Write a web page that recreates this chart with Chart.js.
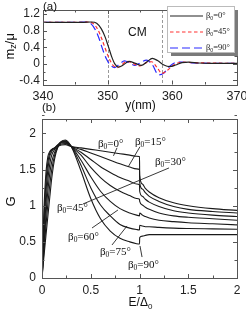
<!DOCTYPE html>
<html><head><meta charset="utf-8">
<script src="https://cdn.jsdelivr.net/npm/chart.js@4"></script>
<style>
html,body{margin:0;padding:0;background:#fff;}
#wrap{position:relative;width:246px;height:312px;overflow:hidden;background:#fff;}
canvas{position:absolute;left:0;}
#c1{top:0;}
#c2{top:100px;}
</style></head><body>
<div id="wrap"><canvas id="c1" width="246" height="112"></canvas><canvas id="c2" width="246" height="212"></canvas></div>
<script>
// ---------- Panel (a) data ----------
const A_X_TICKS = [340, 350, 360, 370];
const A_X_MINOR = [345, 355, 365];
const A_Y_TICKS = [-0.4, 0, 0.4, 0.8, 1.2];
const A_Y_MINOR = [-0.2, 0.2, 0.6, 1.0];
const CM_BOUNDS = [350, 358.4];

const A_Y0  = [340,346,347.5,348.3,349,349.6,350.1,350.6,351.1,351.7,352.4,353.3,354.3,355.2,356.1,356.9,357.7,358.7,359.6,360.5,361.5,362.5,364,366,370];
const A_M0  = [1.0,1.0,1.01,0.98,0.85,0.65,0.42,0.18,0.0,-0.08,-0.03,0.06,0.01,-0.04,0.05,0.13,0.08,-0.03,-0.07,-0.03,0.03,0.04,0.02,0.01,0.01];
const A_Y45 = [340,345.5,347,347.8,348.5,349.1,349.6,350.2,350.8,351.5,352.2,353.0,354.0,355.0,356.0,356.8,357.6,358.4,359.3,360.3,361.5,363,365,370];
const A_M45 = [1.0,1.0,1.01,0.97,0.82,0.6,0.38,0.14,-0.03,-0.09,-0.02,0.06,0.0,-0.05,0.03,0.05,-0.08,-0.23,-0.15,-0.02,0.04,0.03,0.02,0.01];
const A_Y90 = [340,345,346.5,347.4,348.1,348.7,349.2,349.8,350.4,351.1,351.8,352.6,353.5,354.2,355.1,356.0,356.9,357.9,358.7,359.6,360.5,361.5,363,370];
const A_M90 = [1.0,1.0,1.01,0.97,0.82,0.6,0.36,0.12,-0.03,-0.09,-0.01,0.07,0.01,-0.04,0.03,0.09,-0.02,-0.27,-0.22,-0.06,0.03,0.04,0.02,0.01];
const A_ANGLES = ['0', '45', '90'];

// ---------- Panel (b) data ----------
const B_X_TICKS = [0, 0.5, 1, 1.5, 2];
const B_X_MINOR = [0.25, 0.75, 1.25, 1.75];
const B_Y_TICKS = [0, 0.5, 1, 1.5, 2];
const B_Y_MINOR = [0.25, 0.75, 1.25, 1.75, 2.25];
const B_E = [0,0.01,0.02,0.04,0.06,0.08,0.1,0.13,0.16,0.2,0.24,0.3,0.4,0.5,0.6,0.7,0.8,0.9,0.97,1.0,1.002,1.03,1.06,1.1,1.2,1.35,1.5,1.75,2.0];
const G_0  = [0,0.55,0.95,1.45,1.68,1.75,1.78,1.80,1.82,1.84,1.845,1.82, 1.80,1.78,1.76,1.74,1.72,1.70,1.685,1.68, 1.42,1.30,1.24,1.19,1.11,1.04,1.00,0.96,0.935];
const G_15 = [0,0.45,0.80,1.32,1.60,1.73,1.77,1.80,1.83,1.855,1.86,1.82, 1.78,1.73,1.68,1.63,1.58,1.535,1.51,1.50, 1.32,1.23,1.18,1.13,1.06,0.99,0.95,0.92,0.90];
const G_30 = [0,0.36,0.67,1.18,1.50,1.68,1.75,1.80,1.84,1.87,1.87,1.82, 1.74,1.64,1.54,1.46,1.39,1.34,1.30,1.29, 1.20,1.13,1.09,1.05,0.99,0.93,0.90,0.87,0.85];
const G_45 = [0,0.29,0.55,1.02,1.36,1.58,1.70,1.78,1.84,1.88,1.88,1.82, 1.70,1.53,1.39,1.28,1.20,1.14,1.10,1.09, 1.06,1.01,0.98,0.95,0.90,0.86,0.84,0.82,0.80];
const G_60 = [0,0.23,0.45,0.86,1.20,1.45,1.61,1.74,1.82,1.885,1.89,1.82, 1.63,1.40,1.20,1.06,0.96,0.90,0.87,0.86, 0.90,0.87,0.85,0.83,0.80,0.78,0.765,0.75,0.735];
const G_75 = [0,0.18,0.37,0.72,1.02,1.29,1.50,1.70,1.81,1.89,1.90,1.82, 1.56,1.25,1.01,0.86,0.74,0.69,0.67,0.665, 0.73,0.72,0.71,0.71,0.70,0.69,0.685,0.68,0.675];
const G_90 = [0,0.15,0.30,0.58,0.85,1.12,1.38,1.65,1.80,1.89,1.91,1.82, 1.48,1.10,0.82,0.65,0.55,0.50,0.475,0.47, 0.56,0.58,0.59,0.60,0.60,0.60,0.60,0.60,0.60];

// label annotations (data units): angle, text left E, text G, pointer from (E,G) to (E,G)
const B_LABEL_ANGLE = ['0','15','30','45','60','75','90'];
const B_LABEL_E = [0.574, 0.954, 1.159, 0.154, 0.267, 0.595, 0.882];
const B_LABEL_G = [1.855, 1.887, 1.606, 0.969, 0.567, 0.364, 0.18];
const B_PTR = [
  [0.769,1.80, 0.733,1.69],
  [1.005,1.817, 0.885,1.54],
  [1.303,1.523, 0.42,1.024],
  null,
  [0.513,0.692, 0.779,0.941],
  [0.718,0.457, 0.872,0.72],
  [1.005,0.443, 1.026,0.29]
];

const SANS = '"Liberation Sans", Arial, sans-serif';
const SERIF = '"Liberation Serif", "Times New Roman", serif';

function drawBeta(ctx, x, y, ang, size){
  ctx.textAlign = 'left'; ctx.textBaseline = 'middle';
  ctx.font = size + 'px ' + SERIF;
  ctx.fillText('β', x, y);
  let w = ctx.measureText('β').width;
  ctx.font = (size*0.68) + 'px ' + SERIF;
  ctx.fillText('0', x + w, y + size*0.28);
  w += ctx.measureText('0').width;
  ctx.font = size + 'px ' + SERIF;
  ctx.fillText('=' + ang + '°', x + w, y);
}

function frameTicks(id, xMaj, xMin, yMaj, yMin){
  return {
    id: id,
    afterDatasetsDraw(chart){
      const {ctx, chartArea: a, scales: {x, y}} = chart;
      ctx.save();
      ctx.strokeStyle = '#555'; ctx.lineWidth = 1;
      ctx.strokeRect(Math.round(a.left)+0.5, Math.round(a.top)+0.5, Math.round(a.right-a.left), Math.round(a.bottom-a.top));
      ctx.beginPath();
      const tick = (vals, len) => {
        vals.forEach(v => {
          const px = Math.round(x.getPixelForValue(v)) + 0.5;
          ctx.moveTo(px, a.bottom); ctx.lineTo(px, a.bottom - len);
          ctx.moveTo(px, a.top); ctx.lineTo(px, a.top + len);
        });
      };
      const ticky = (vals, len) => {
        vals.forEach(v => {
          const py = Math.round(y.getPixelForValue(v)) + 0.5;
          ctx.moveTo(a.left, py); ctx.lineTo(a.left + len, py);
          ctx.moveTo(a.right, py); ctx.lineTo(a.right - len, py);
        });
      };
      tick(xMaj, 4); tick(xMin, 2.5); ticky(yMaj, 4); ticky(yMin, 2.5);
      ctx.stroke();
      ctx.restore();
    }
  };
}

function fixAxis(size, isX){
  return function(scale){
    if (isX) scale.height = size; else scale.width = size;
    scale.paddingLeft = 0; scale.paddingRight = 0; scale.paddingTop = 0; scale.paddingBottom = 0;
  };
}

// ---------- Chart (a) ----------
const aColors = ['#222222', '#ff3030', '#2a2aff'];
const aDash = [[], [3.5, 2.5], [8, 4]];
const aXs = [A_Y0, A_Y45, A_Y90];
const aYs = [A_M0, A_M45, A_M90];

const annotA = {
  id: 'annotA',
  beforeDatasetsDraw(chart){
    const {ctx, chartArea: a, scales: {x}} = chart;
    ctx.save();
    ctx.strokeStyle = '#999'; ctx.lineWidth = 1; ctx.setLineDash([3, 2]);
    CM_BOUNDS.forEach(v => {
      const px = Math.round(x.getPixelForValue(v)) + 0.5;
      ctx.beginPath(); ctx.moveTo(px, a.top); ctx.lineTo(px, a.bottom); ctx.stroke();
    });
    ctx.restore();
  },
  afterDraw(chart){
    const {ctx, chartArea: a, scales: {x, y}} = chart;
    ctx.save();
    ctx.fillStyle = '#111';
    ctx.font = '12px ' + SANS; ctx.textAlign = 'center'; ctx.textBaseline = 'middle';
    ctx.fillText('CM', x.getPixelForValue(354.6), y.getPixelForValue(0.74));
    // panel label
    ctx.font = '11.5px ' + SANS; ctx.textAlign = 'left';
    ctx.fillText('(a)', a.left, a.top - 3);
    // x title
    ctx.font = '12px ' + SANS; ctx.textAlign = 'center';
    ctx.fillText('y(nm)', (a.left + a.right)/2 + 0.5, a.bottom + 21);
    // y title m_z/μ rotated
    ctx.translate(10, (a.top + a.bottom)/2 - 1);
    ctx.rotate(-Math.PI/2);
    ctx.font = '13px ' + SANS;
    const w1 = ctx.measureText('m').width;
    ctx.font = '9px ' + SANS;
    const w2 = ctx.measureText('z').width;
    ctx.font = '13px ' + SANS;
    const w3 = ctx.measureText('/μ').width;
    let sx = -(w1 + w2 + w3)/2;
    ctx.textAlign = 'left';
    ctx.fillText('m', sx, 0);
    ctx.font = '9px ' + SANS; ctx.fillText('z', sx + w1, 3.5);
    ctx.font = '13px ' + SANS; ctx.fillText('/μ', sx + w1 + w2, 0);
    ctx.restore();

    // legend box
    ctx.save();
    const bx = a.right - 70, by = a.top - 4, bw = 67, bh = 46;
    ctx.fillStyle = '#7a7a7a';
    ctx.fillRect(bx + 4, by + 4, bw, bh);
    ctx.fillStyle = '#fff';
    ctx.fillRect(bx, by, bw, bh);
    ctx.strokeStyle = '#bbb'; ctx.lineWidth = 1;
    ctx.strokeRect(bx + 0.5, by + 0.5, bw, bh);
    chart.data.datasets.forEach((ds, i) => {
      const ry = by + 10 + i * 16;
      ctx.strokeStyle = ds.borderColor; ctx.lineWidth = 1.2; ctx.setLineDash(ds.borderDash || []);
      ctx.beginPath(); ctx.moveTo(bx + 3, ry); ctx.lineTo(bx + 36, ry); ctx.stroke();
      ctx.setLineDash([]);
      ctx.fillStyle = '#222';
      drawBeta(ctx, bx + 39, ry, A_ANGLES[i], 8.5);
    });
    ctx.restore();
  }
};

new Chart(document.getElementById('c1'), {
  type: 'line',
  data: {
    datasets: aXs.map((xs, i) => ({
      label: 'β0=' + A_ANGLES[i] + '°',
      data: xs.map((v, k) => ({x: v, y: aYs[i][k]})),
      borderColor: aColors[i], borderWidth: 1.2, borderDash: aDash[i],
      pointRadius: 0, fill: false, cubicInterpolationMode: 'monotone'
    }))
  },
  options: {
    responsive: false, animation: false, devicePixelRatio: 1,
    layout: {padding: {top: 10, right: 9, left: 0, bottom: 0}},
    plugins: {legend: {display: false}, tooltip: {enabled: false}},
    scales: {
      x: {type: 'linear', min: 340, max: 370,
        grid: {display: false, drawTicks: false}, border: {display: false},
        afterBuildTicks: s => { s.ticks = A_X_TICKS.map(v => ({value: v})); },
        afterFit: fixAxis(27.5, true),
        ticks: {padding: 5, color: '#222', font: {family: SANS, size: 12.5}, callback: v => String(v), maxRotation: 0, autoSkip: false}},
      y: {type: 'linear', min: -0.5, max: 1.3,
        grid: {display: false, drawTicks: false}, border: {display: false},
        afterBuildTicks: s => { s.ticks = A_Y_TICKS.map(v => ({value: v})); },
        afterFit: fixAxis(43, false),
        ticks: {padding: 3, color: '#222', font: {family: SANS, size: 12}, callback: v => String(v), autoSkip: false}}
    }
  },
  plugins: [annotA, frameTicks('ftA', A_X_TICKS, A_X_MINOR, A_Y_TICKS, A_Y_MINOR)]
});

// ---------- Chart (b) ----------
const bSeries = [G_0, G_15, G_30, G_45, G_60, G_75, G_90];

const annotB = {
  id: 'annotB',
  afterDraw(chart){
    const {ctx, chartArea: a, scales: {x, y}} = chart;
    ctx.save();
    ctx.fillStyle = '#111'; ctx.strokeStyle = '#222'; ctx.lineWidth = 0.9;
    B_PTR.forEach(p => {
      if (!p) return;
      ctx.beginPath();
      ctx.moveTo(x.getPixelForValue(p[0]), y.getPixelForValue(p[1]));
      ctx.lineTo(x.getPixelForValue(p[2]), y.getPixelForValue(p[3]));
      ctx.stroke();
    });
    B_LABEL_ANGLE.forEach((ang, i) => {
      drawBeta(ctx, x.getPixelForValue(B_LABEL_E[i]), y.getPixelForValue(B_LABEL_G[i]), ang, 11);
    });
    ctx.font = '11.5px ' + SANS; ctx.textAlign = 'left'; ctx.textBaseline = 'middle';
    ctx.fillText('(b)', a.left, a.top - 11);
    // y title
    ctx.save();
    ctx.translate(11, (a.top + a.bottom)/2 + 3);
    ctx.rotate(-Math.PI/2);
    ctx.font = '13px ' + SANS; ctx.textAlign = 'center';
    ctx.fillText('G', 0, 0);
    ctx.restore();
    // x title E/Δ0
    ctx.font = '12px ' + SANS;
    const w1 = ctx.measureText('E/Δ').width;
    ctx.font = '8px ' + SANS;
    const w2 = ctx.measureText('0').width;
    const cx = (a.left + a.right)/2 + 1 - (w1 + w2)/2, cy = a.bottom + 25;
    ctx.font = '12px ' + SANS; ctx.fillText('E/Δ', cx, cy);
    ctx.font = '8px ' + SANS; ctx.fillText('0', cx + w1, cy + 3.5);
    ctx.restore();
  }
};

new Chart(document.getElementById('c2'), {
  type: 'line',
  data: {
    datasets: bSeries.map((g, i) => ({
      label: 'β0=' + B_LABEL_ANGLE[i] + '°',
      data: B_E.map((e, k) => ({x: e, y: g[k]})),
      borderColor: '#1a1a1a', borderWidth: 1.1,
      pointRadius: 0, fill: false, cubicInterpolationMode: 'monotone'
    }))
  },
  options: {
    responsive: false, animation: false, devicePixelRatio: 1,
    layout: {padding: {top: 19, right: 9, left: 0, bottom: 0}},
    plugins: {legend: {display: false}, tooltip: {enabled: false}},
    scales: {
      x: {type: 'linear', min: 0, max: 2,
        grid: {display: false, drawTicks: false}, border: {display: false},
        afterBuildTicks: s => { s.ticks = B_X_TICKS.map(v => ({value: v})); },
        afterFit: fixAxis(34, true),
        ticks: {padding: 5, color: '#222', font: {family: SANS, size: 12}, callback: v => String(v), maxRotation: 0, autoSkip: false}},
      y: {type: 'linear', min: 0, max: 2.2,
        grid: {display: false, drawTicks: false}, border: {display: false},
        afterBuildTicks: s => { s.ticks = B_Y_TICKS.map(v => ({value: v})); },
        afterFit: fixAxis(42, false),
        ticks: {padding: 6, color: '#222', font: {family: SANS, size: 12}, callback: v => String(v), autoSkip: false}}
    }
  },
  plugins: [annotB, frameTicks('ftB', B_X_TICKS, B_X_MINOR, B_Y_TICKS, B_Y_MINOR)]
});
</script>
</body></html>
